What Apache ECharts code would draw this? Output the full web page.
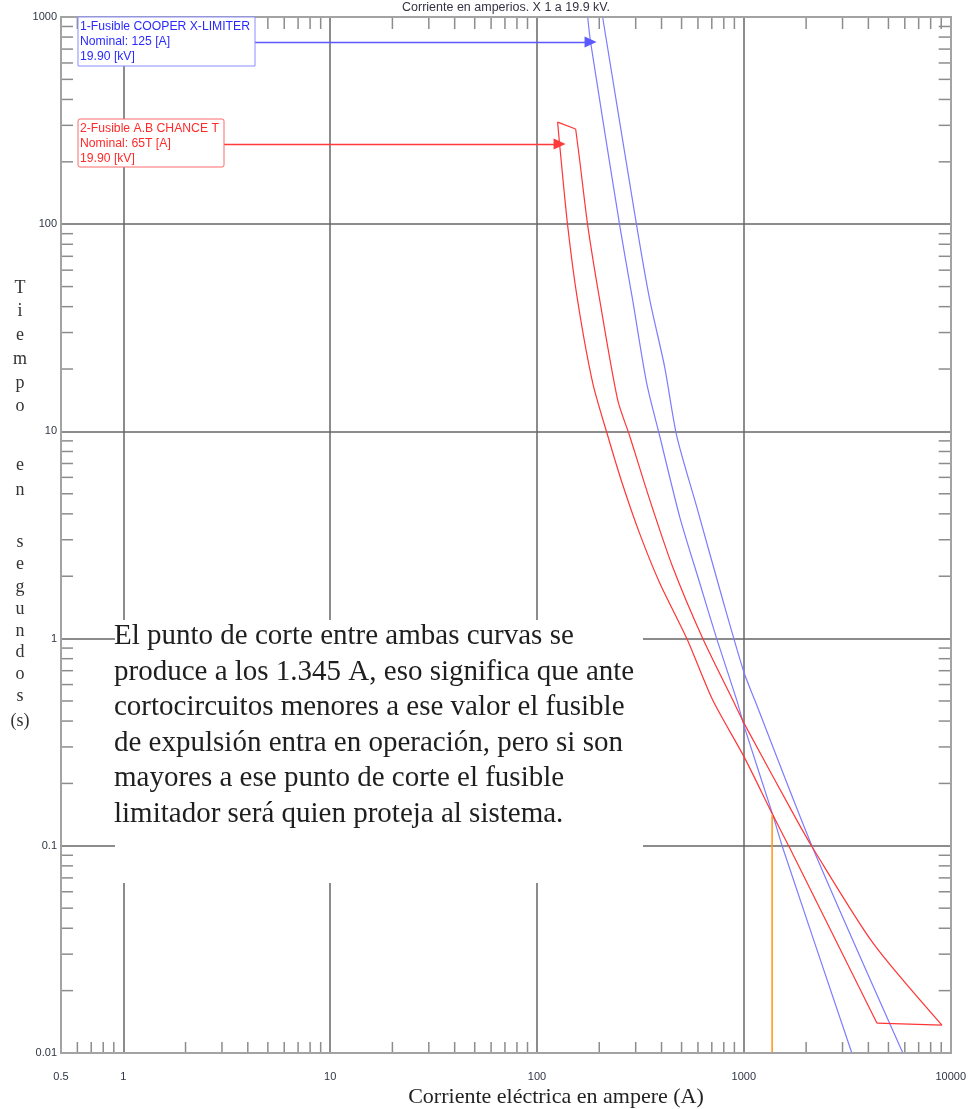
<!DOCTYPE html>
<html>
<head>
<meta charset="utf-8">
<script src="https://cdn.jsdelivr.net/npm/echarts@6/dist/echarts.min.js"></script>
<style>
html, body { margin: 0; padding: 0; background: #fff; }
#main { width: 969px; height: 1109px; }
</style>
</head>
<body>
<div id="main"></div>
<script>
// Fusible limitador COOPER X-LIMITER 125 A (azul): corriente (A) / tiempo (s)
var blueMinI = [175.8, 181.6, 251, 290, 339, 392, 490, 612, 739, 924, 1010, 1380, 1543, 3327];
var blueMinT = [1000, 757, 99, 43.1, 17.1, 9.5, 3.86, 1.855, 1.0, 0.505, 0.37, 0.141, 0.0976, 0.01];
var blueMaxI = [207.6, 303, 351, 414, 474, 592, 791, 1000, 1129, 2154, 5871];
var blueMaxT = [1000, 99, 43.1, 20.5, 9.5, 4.32, 1.536, 0.69, 0.505, 0.0976, 0.01];

// Fusible A.B CHANCE T 65T (rojo)
var redMinI = [125.8, 128.6, 140.6, 157, 186, 220, 257, 313, 392, 530, 707, 1010, 1380, 1667, 4396];
var redMinT = [311, 244, 99, 43.1, 17.1, 9.5, 5.7, 3.23, 1.855, 1.0, 0.505, 0.265, 0.141, 0.0976, 0.01395];
var redMaxI = [153.8, 160.8, 175.8, 201, 245.5, 280.6, 351, 453, 633, 884, 1000, 1803, 2154, 4205, 9067];
var redMaxT = [288, 204, 99, 43.1, 14.2, 9.5, 4.67, 2.216, 1.0, 0.505, 0.392, 0.133, 0.0976, 0.034, 0.01364];

// punto de corte
var cutI = [1370, 1370];
var cutT = [0.141, 0.01];

// flechas de las etiquetas
var blueArrowI = [4.3, 181.6];
var blueArrowT = [757, 757];
var redArrowI = [3.05, 128.6];
var redArrowT = [244, 244];

// ticks menores
var xMinor = [0.6, 0.7, 0.8, 0.9, 2, 3, 4, 5, 6, 7, 8, 9, 20, 30, 40, 50, 60, 70, 80, 90,
  200, 300, 400, 500, 600, 700, 800, 900, 2000, 3000, 4000, 5000, 6000, 7000, 8000, 9000];
var yMinor = [0.02, 0.03, 0.04, 0.05, 0.06, 0.07, 0.08, 0.09, 0.2, 0.3, 0.4, 0.5, 0.6, 0.7, 0.8, 0.9,
  2, 3, 4, 5, 6, 7, 8, 9, 20, 30, 40, 50, 60, 70, 80, 90, 200, 300, 400, 500, 600, 700, 800, 900];

var yTitle = ['T', 'i', 'e', 'm', 'p', 'o', 'e', 'n', 's', 'e', 'g', 'u', 'n', 'd', 'o', 's', '(s)'];
var yTitlePos = [288, 311, 335, 359, 383, 406, 465, 490, 542, 564, 587, 609, 631, 652, 674, 696, 721];

var note = 'El punto de corte entre ambas curvas se\n' +
  'produce a los 1.345 A, eso significa que ante\n' +
  'cortocircuitos menores a ese valor el fusible\n' +
  'de expulsión entra en operación, pero si son\n' +
  'mayores a ese punto de corte el fusible\n' +
  'limitador será quien proteja al sistema.';

function zip(a, b) {
  return a.map(function (v, i) { return [v, b[i]]; });
}

function fmt(v) { return String(+v.toPrecision(6)); }

var tickStyle = { stroke: '#8c8c8c', lineWidth: 1.5 };

function xTick(params, api) {
  var p = api.coord([api.value(0), 1]);
  var cs = params.coordSys;
  var b = cs.y + cs.height;
  return {
    type: 'group', children: [
      { type: 'line', shape: { x1: p[0], y1: b, x2: p[0], y2: b - 11 }, style: tickStyle },
      { type: 'line', shape: { x1: p[0], y1: cs.y, x2: p[0], y2: cs.y + 12 }, style: tickStyle }
    ]
  };
}

function yTick(params, api) {
  var p = api.coord([1, api.value(1)]);
  var cs = params.coordSys;
  var r = cs.x + cs.width;
  return {
    type: 'group', children: [
      { type: 'line', shape: { x1: cs.x, y1: p[1], x2: cs.x + 12, y2: p[1] }, style: tickStyle },
      { type: 'line', shape: { x1: r, y1: p[1], x2: r - 12, y2: p[1] }, style: tickStyle }
    ]
  };
}

var graphics = [
  // marco
  { type: 'rect', z: 5, shape: { x: 61, y: 17, width: 890, height: 1036 },
    style: { fill: null, stroke: '#a3a3a3', lineWidth: 2 } },
  // titulo superior (recortado)
  { type: 'text', z: 5, x: 506, y: 8,
    style: { text: 'Corriente en amperios. X 1 a 19.9 kV.', fill: '#334', font: '12.5px "Liberation Sans"',
      align: 'center', verticalAlign: 'middle' } },
  // etiqueta 1
  { type: 'rect', z: 100, shape: { x: 78, y: 17, width: 177, height: 49 },
    style: { fill: '#fff', stroke: '#8c8cff', lineWidth: 1 } },
  { type: 'text', z: 101, x: 80, y: 19,
    style: { text: '1-Fusible COOPER X-LIMITER\nNominal: 125 [A]\n19.90 [kV]', fill: '#2a2aff',
      font: '12.2px "Liberation Sans"', lineHeight: 15 } },
  // etiqueta 2
  { type: 'rect', z: 100, shape: { x: 78, y: 119, width: 146, height: 48, r: 2 },
    style: { fill: '#fff', stroke: '#ff6a6a', lineWidth: 1 } },
  { type: 'text', z: 101, x: 80, y: 121,
    style: { text: '2-Fusible A.B CHANCE T\nNominal: 65T [A]\n19.90 [kV]', fill: '#ff2a2a',
      font: '12.2px "Liberation Sans"', lineHeight: 15 } },
  // nota
  { type: 'rect', z: 50, shape: { x: 115, y: 620, width: 528, height: 263 }, style: { fill: '#fff' } },
  { type: 'text', z: 51, x: 114, y: 619,
    style: { text: note, fill: '#1e1e1e', font: '29px "Liberation Serif"', lineHeight: 35.5 } },
  // titulo eje x
  { type: 'text', z: 5, x: 556, y: 1097,
    style: { text: 'Corriente eléctrica en ampere (A)', fill: '#222', font: '22px "Liberation Serif"',
      align: 'center', verticalAlign: 'middle' } }
];

yTitle.forEach(function (c, i) {
  graphics.push({ type: 'text', z: 5, x: 20, y: yTitlePos[i],
    style: { text: c, fill: '#333', font: '18px "Liberation Serif"', align: 'center', verticalAlign: 'middle' } });
});

function curve(name, xs, ys, color) {
  return {
    name: name, type: 'line', data: zip(xs, ys), showSymbol: false, silent: true,
    smooth: 0.25, lineStyle: { color: color, width: 1.2 }
  };
}

function cap(name, a, b, color) {
  return {
    name: name, type: 'line', data: [a, b], showSymbol: false, silent: true,
    lineStyle: { color: color, width: 1.2 }
  };
}

function arrow(xs, ys, color) {
  return {
    type: 'line', data: [], silent: true,
    markLine: {
      silent: true, symbol: ['none', 'triangle'], symbolSize: [11, 12],
      label: { show: false },
      lineStyle: { color: color, width: 1.3, type: 'solid' },
      data: [[{ coord: [xs[0], ys[0]] }, { coord: [xs[1], ys[1]] }]]
    }
  };
}

var blueColor = '#7c7cff';
var redColor = '#ff3636';

var option = {
  animation: false,
  backgroundColor: '#fff',
  grid: { left: 61, right: 18, top: 17, bottom: 56 },
  xAxis: {
    type: 'log', logBase: 10, min: 0.5, max: 10000,
    axisLine: { show: false }, axisTick: { show: false },
    axisLabel: { formatter: fmt, color: '#2f3545', fontSize: 11, fontFamily: 'Liberation Sans', margin: 18,
      showMinLabel: true, showMaxLabel: true },
    splitLine: { show: true, lineStyle: { color: '#666', width: 1.5 } }
  },
  yAxis: {
    type: 'log', logBase: 10, min: 0.01, max: 1000,
    axisLine: { show: false }, axisTick: { show: false },
    axisLabel: { formatter: fmt, color: '#2f3545', fontSize: 11, fontFamily: 'Liberation Sans', margin: 4 },
    splitLine: { show: true, lineStyle: { color: '#666', width: 1.5 } }
  },
  graphic: { elements: graphics },
  series: [
    { type: 'custom', silent: true, renderItem: xTick, data: xMinor.map(function (v) { return [v, 1]; }) },
    { type: 'custom', silent: true, renderItem: yTick, data: yMinor.map(function (v) { return [1, v]; }) },
    curve('COOPER min', blueMinI, blueMinT, blueColor),
    curve('COOPER max', blueMaxI, blueMaxT, blueColor),
    cap('COOPER base', [blueMinI[blueMinI.length - 1], blueMinT[blueMinT.length - 1]],
      [blueMaxI[blueMaxI.length - 1], blueMaxT[blueMaxT.length - 1]], blueColor),
    curve('CHANCE min', redMinI, redMinT, redColor),
    curve('CHANCE max', redMaxI, redMaxT, redColor),
    cap('CHANCE base', [redMinI[redMinI.length - 1], redMinT[redMinT.length - 1]],
      [redMaxI[redMaxI.length - 1], redMaxT[redMaxT.length - 1]], redColor),
    cap('CHANCE top', [redMinI[0], redMinT[0]], [redMaxI[0], redMaxT[0]], redColor),
    arrow(blueArrowI, blueArrowT, '#5a5aff'),
    arrow(redArrowI, redArrowT, '#ff3a3a'),
    {
      name: 'corte', type: 'line', data: zip(cutI, cutT), showSymbol: false, silent: true,
      lineStyle: { color: '#ff9a20', width: 1.6 }
    }
  ]
};

echarts.init(document.getElementById('main')).setOption(option);
</script>
</body>
</html>
